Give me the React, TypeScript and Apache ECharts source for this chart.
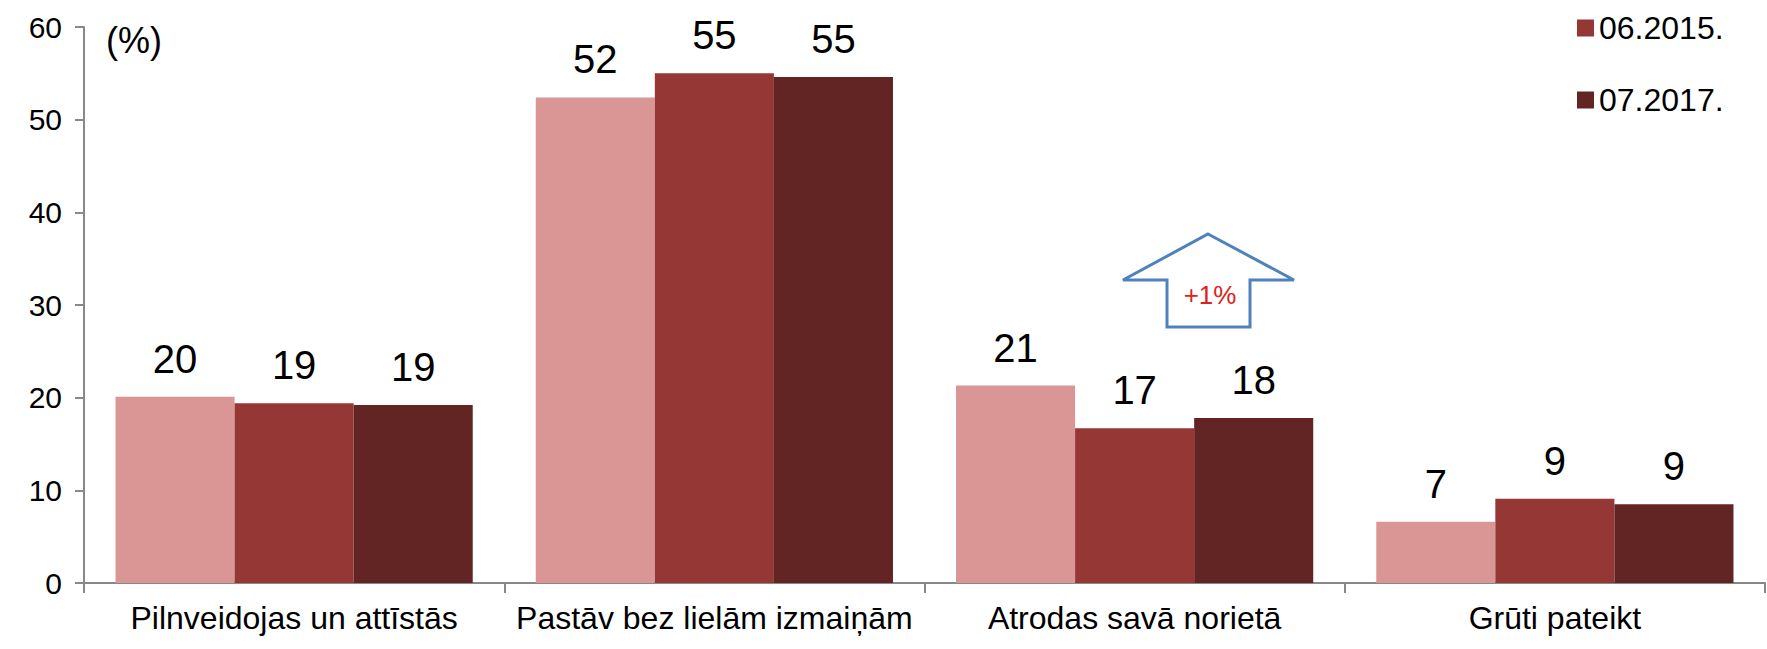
import React, { useEffect, useRef } from "react";
import * as echarts from "echarts";

const categories = [
  "Pilnveidojas un attīstās",
  "Pastāv bez lielām izmaiņām",
  "Atrodas savā norietā",
  "Grūti pateikt",
];
const seriesNames = ["04.2013.", "06.2015.", "07.2017."];
const values2013 = [20.1, 52.4, 21.3, 6.6];
const values2015 = [19.4, 55.0, 16.7, 9.1];
const values2017 = [19.2, 54.6, 17.8, 8.5];
const colors = ["#DA9694", "#953735", "#632523"];
const yTicks = { min: 0, max: 60, interval: 10 };
const unitLabel = "(%)";
const arrowLabel = "+1%";

const FONT = "'Liberation Sans', Arial, sans-serif";

export default function App() {
  const ref = useRef<HTMLDivElement>(null);
  useEffect(() => {
    if (!ref.current) return;
    const chart = echarts.init(ref.current, null, { renderer: "svg" });
    const data = [values2013, values2015, values2017];
    chart.setOption({
      animation: false,
      backgroundColor: "#ffffff",
      textStyle: { fontFamily: FONT },
      grid: { left: 84, right: 2, top: 27, bottom: 66, containLabel: false },
      legend: {
        data: [seriesNames[1], seriesNames[2]],
        orient: "vertical",
        left: 1572,
        top: 7,
        itemWidth: 17,
        itemHeight: 17,
        itemGap: 40,
        icon: "rect",
        textStyle: { fontSize: 32, color: "#000", fontFamily: FONT },
      },
      xAxis: {
        type: "category",
        data: categories,
        axisLine: { lineStyle: { color: "#888", width: 2 } },
        axisTick: { show: true, length: 10, lineStyle: { color: "#888", width: 2 } },
        axisLabel: { fontSize: 32, color: "#000", margin: 19, fontFamily: FONT, interval: 0 },
      },
      yAxis: {
        type: "value",
        min: yTicks.min,
        max: yTicks.max,
        interval: yTicks.interval,
        splitLine: { show: false },
        axisLine: { show: true, lineStyle: { color: "#888", width: 2 } },
        axisTick: { show: true, length: 9, lineStyle: { color: "#888", width: 2 } },
        axisLabel: { fontSize: 30, color: "#000", margin: 22, fontFamily: FONT },
      },
      series: data.map((d, i) => ({
        type: "bar",
        name: seriesNames[i],
        data: d,
        barGap: "0%",
        barCategoryGap: "15%",
        itemStyle: { color: colors[i] },
        label: {
          show: true,
          position: "top",
          distance: 18,
          fontSize: 40,
          color: "#000",
          fontFamily: FONT,
          formatter: (p: any) => String(Math.round(p.value)),
        },
      })),
      graphic: [
        {
          type: "text",
          left: 106,
          top: 22,
          style: { text: unitLabel, fontSize: 36, fill: "#000", fontFamily: FONT },
        },
        {
          type: "polygon",
          shape: {
            points: [
              [1208, 234],
              [1294, 280],
              [1250, 280],
              [1250, 327],
              [1167, 327],
              [1167, 280],
              [1123, 280],
            ],
          },
          style: { fill: "#ffffff", stroke: "#4F81BD", lineWidth: 3 },
        },
        {
          type: "text",
          x: 1210,
          y: 295,
          style: {
            text: arrowLabel,
            fontSize: 26,
            fill: "#E0201B",
            fontFamily: FONT,
            align: "center",
            verticalAlign: "middle",
          },
        },
      ],
    });
    return () => chart.dispose();
  }, []);
  return (
    <div
      ref={ref}
      style={{ position: "fixed", left: 0, top: 0, width: 1767, height: 649 }}
    />
  );
}
